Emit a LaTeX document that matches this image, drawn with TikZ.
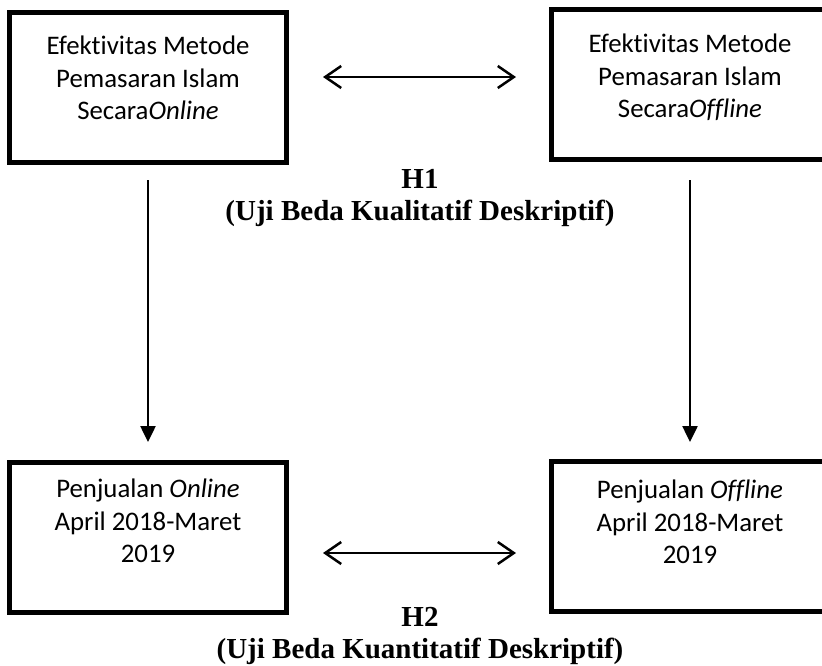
\documentclass[tikz,border=0pt]{standalone}
\usepackage{fontspec}
\setmainfont{Liberation Serif}
\newfontfamily\calibri[Ligatures=NoCommon]{Carlito}
\usetikzlibrary{positioning,arrows.meta}
\tikzset{frame/.style={draw, line width=5pt, minimum width=277pt, minimum height=150pt, inner sep=0pt},
    boxtext/.style={align=center, inner sep=0pt, font=\calibri\fontsize{26.8}{32.5}\selectfont},
    hyp/.style={align=center, inner sep=0pt, anchor=north, font=\bfseries\fontsize{29}{32}\selectfont},
    down/.style={line width=2.5pt, -{Triangle[width=15pt,length=16pt]}},
    both/.style={line width=2.5pt, {Straight Barb[width=22pt,length=16pt]}-{Straight Barb[width=22pt,length=16pt]}}}

\begin{document}
\begin{tikzpicture}[x=1pt,y=-1pt]
\useasboundingbox (0,0) rectangle (822,665);
\clip (0,0) rectangle (822,665);
	\node[frame] (tl) at (148,87) {};
	\node[frame] (tr) at (690,84.5) {};
	\node[frame] (bl) at (148,537) {};
	\node[frame] (br) at (690,536) {};
	\node[boxtext, below=22.3pt of tl.north] (tltext) {\strut Efektivitas Metode\\Pemasaran Islam\\Secara\textit{Online}};
	\node[boxtext, below=23pt of tr.north] (trtext) {\strut Efektivitas Metode\\Pemasaran Islam\\Secara\textit{Offline}};
	\node[boxtext, below=15.3pt of bl.north] (bltext) {\strut Penjualan \textit{Online}\\April 2018-Maret\\2019};
	\node[boxtext, below=17.5pt of br.north] (brtext) {\strut Penjualan \textit{Offline}\\April 2018-Maret\\2019};
	\node[hyp] (h1) at (420,165.6) {\strut H1\\(Uji Beda Kualitatif Deskriptif)};
	\node[hyp] (h2) at (420,603.6) {\strut H2\\(Uji Beda Kuantitatif Deskriptif)};
	\draw[down, shorten <=15.5pt, shorten >=17.5pt] (tl) -- (bl);
	\draw[down, shorten <=18pt, shorten >=16.5pt] (tr) -- (br);
	\draw[both, shorten <=34pt, shorten >=33pt] ([yshift=10pt]tl.east) -- ([yshift=10pt]tl.east -| tr.west);
	\draw[both, shorten <=34pt, shorten >=33pt] ([yshift=-16pt]bl.east) -- ([yshift=-16pt]bl.east -| br.west);
\end{tikzpicture}
\end{document}
